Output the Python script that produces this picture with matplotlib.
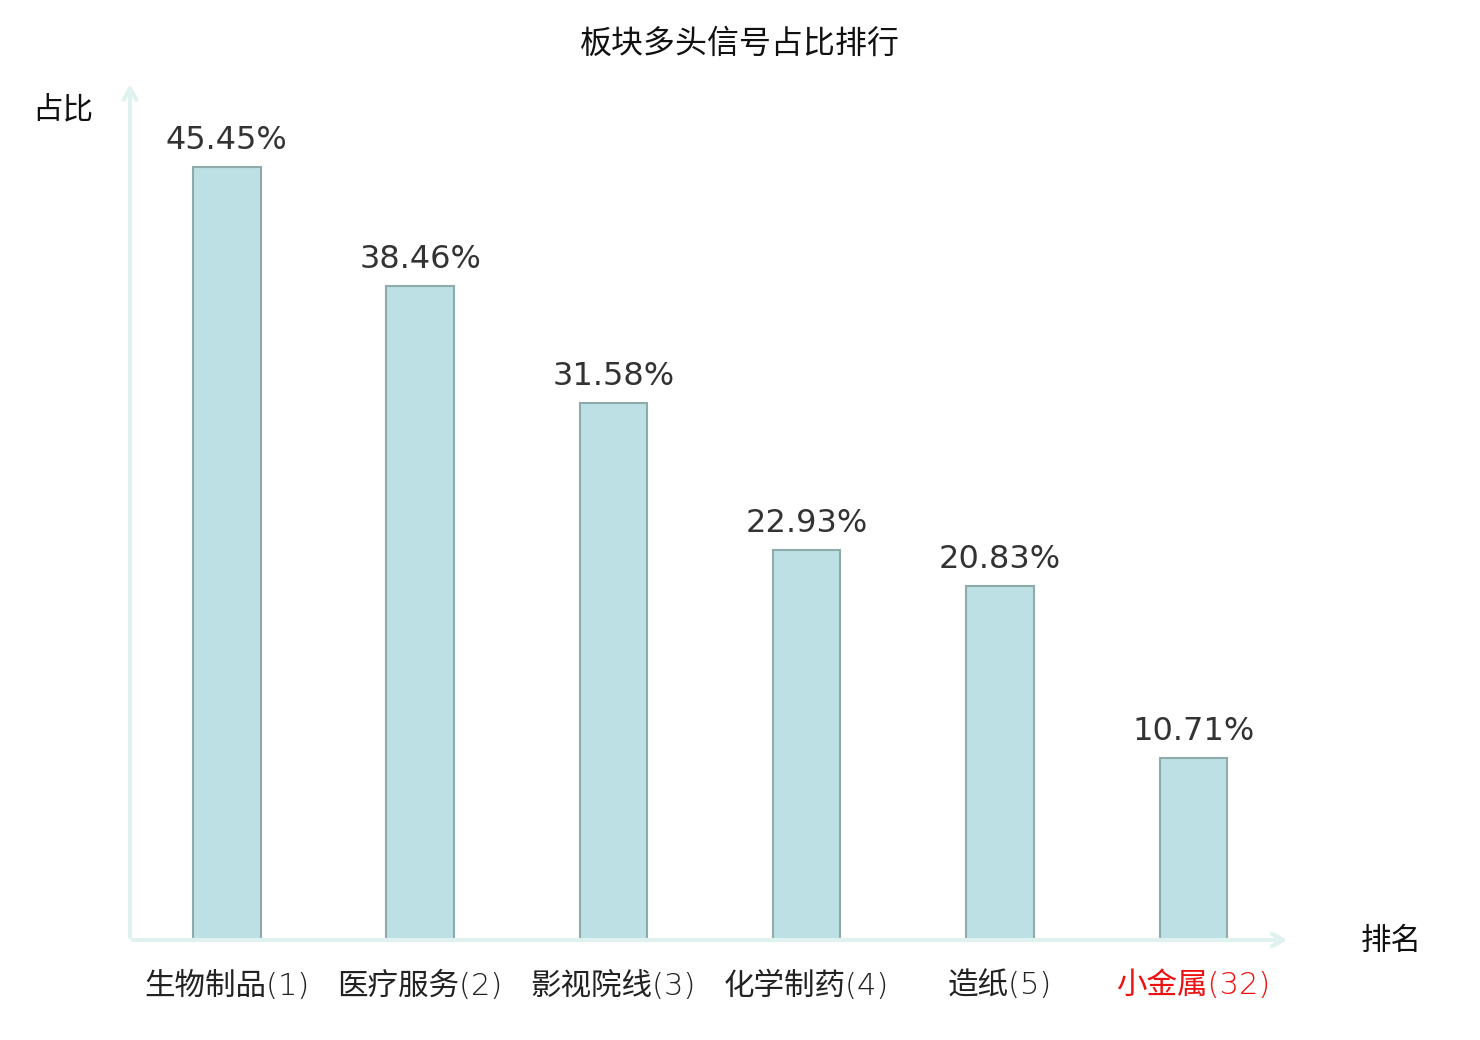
import matplotlib.pyplot as plt

plt.rcParams['font.family'] = ['Noto Sans CJK SC', 'DejaVu Sans']

sectors = ["生物制品", "医疗服务", "影视院线", "化学制药", "造纸", "小金属"]
ranks = [1, 2, 3, 4, 5, 32]
ratios = [45.45, 38.46, 31.58, 22.93, 20.83, 10.71]
label_colors = ["#222222"] * 5 + ["#ee1111"]

fig = plt.figure(figsize=(14.8, 10.4), dpi=100)
ax = fig.add_axes([130 / 1480, 100 / 1040, 1160 / 1480, 850 / 1040])

x = range(len(sectors))
bars = ax.bar(x, ratios, width=0.35, color="#bce0e3", edgecolor="#8eaaaa", linewidth=1.5, zorder=2)

for xi, v in zip(x, ratios):
    ax.annotate(f"{v:.2f}%", (xi, v), xytext=(0, 8), textcoords="offset points",
                ha="center", va="bottom", fontsize=23, color="#333333", family="DejaVu Sans")

ax.set_xlim(-0.5, 5.5)
ax.set_ylim(0, 50)
for s in ax.spines.values():
    s.set_visible(False)
ax.set_yticks([])
ax.set_xticks(list(x))
ax.set_xticklabels([f"{s}({r})" for s, r in zip(sectors, ranks)], fontsize=22,
                   family=['DejaVu Sans', 'Noto Sans CJK SC'], fontweight="light")
for t, c in zip(ax.get_xticklabels(), label_colors):
    t.set_color(c)
ax.tick_params(axis="x", length=0, pad=22)

# axis lines with open arrow heads
axis_color = "#dff2f0"
ax.annotate("", xy=(0, 1.01), xytext=(0, 0), xycoords="axes fraction",
            arrowprops=dict(arrowstyle="->,head_length=0.8,head_width=0.45", color=axis_color, lw=3),
            annotation_clip=False)
ax.annotate("", xy=(1.0, 0), xytext=(0, 0), xycoords="axes fraction",
            arrowprops=dict(arrowstyle="->,head_length=0.8,head_width=0.45", color=axis_color, lw=3),
            annotation_clip=False)

fig.text(63 / 1480, 1 - 110 / 1040, "占比", ha="center", va="center", fontsize=22, color="#111111")
fig.text(1391 / 1480, 1 - 941 / 1040, "排名", ha="center", va="center", fontsize=22, color="#111111")
fig.text(740 / 1480, 1 - 44 / 1040, "板块多头信号占比排行", ha="center", va="center", fontsize=23, color="#111111")

fig.savefig("out.png", dpi=100, facecolor="white")
